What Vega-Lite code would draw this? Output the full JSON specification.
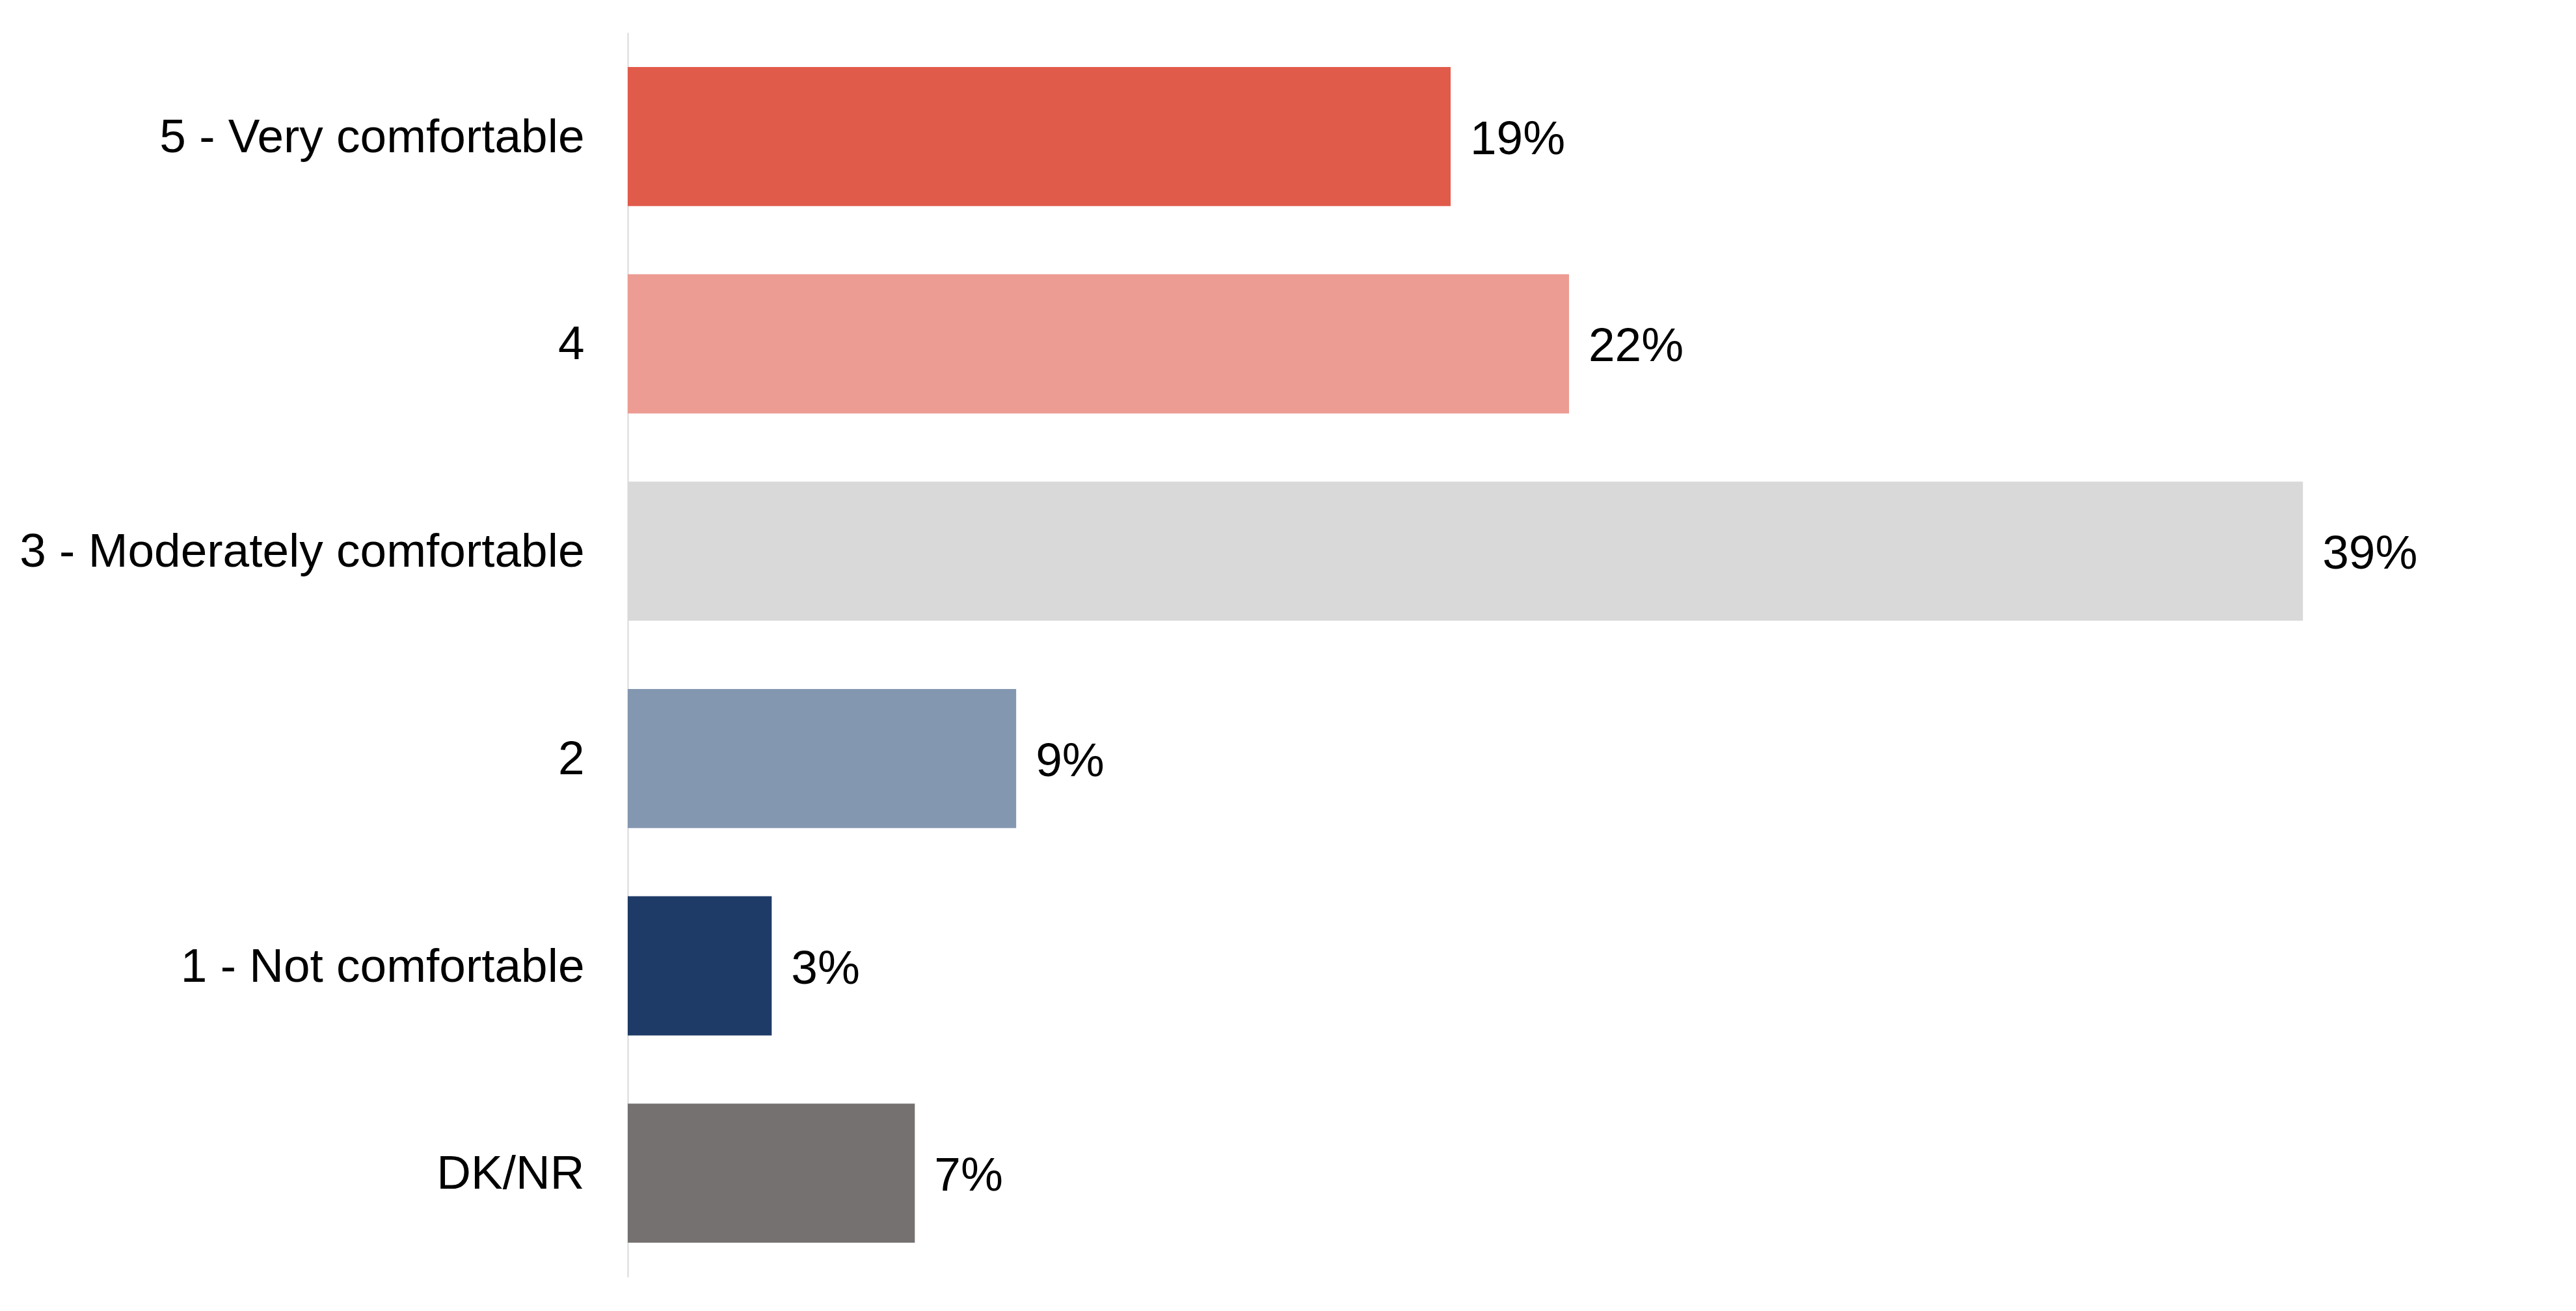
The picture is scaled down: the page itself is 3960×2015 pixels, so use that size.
{
  "$schema": "https://vega.github.io/schema/vega-lite/v6.json",
  "autosize": {"type": "none"},
  "width": 2750,
  "height": 1913,
  "padding": {"left": 965, "top": 50, "right": 245, "bottom": 52},
  "background": "white",
  "config": {
    "view": {"stroke": null},
    "font": "Liberation Sans"
  },
  "data": {
    "values": [
      {"category": "5 - Very comfortable", "pct": 19.32, "label": "19%", "color": "#E15B4B"},
      {"category": "4", "pct": 22.10, "label": "22%", "color": "#EC9C93"},
      {"category": "3 - Moderately comfortable", "pct": 39.33, "label": "39%", "color": "#D9D9D9"},
      {"category": "2", "pct": 9.12, "label": "9%", "color": "#8497B0"},
      {"category": "1 - Not comfortable", "pct": 3.38, "label": "3%", "color": "#1E3A67"},
      {"category": "DK/NR", "pct": 6.74, "label": "7%", "color": "#767171"}
    ]
  },
  "encoding": {
    "y": {
      "field": "category",
      "type": "nominal",
      "sort": null,
      "scale": {"paddingInner": 0.329, "paddingOuter": 0.166},
      "axis": {
        "title": null,
        "ticks": false,
        "domain": true,
        "domainColor": "#D9D9D9",
        "domainWidth": 2,
        "labelFont": "Liberation Sans",
        "labelFontSize": 73,
        "labelColor": "#000000",
        "labelPadding": 67,
        "labelLimit": 2000,
        "labelOffset": 2
      }
    },
    "x": {
      "field": "pct",
      "type": "quantitative",
      "scale": {"domain": [0, 42], "nice": false, "zero": true},
      "axis": null
    }
  },
  "layer": [
    {
      "mark": {"type": "bar"},
      "encoding": {
        "color": {"field": "color", "type": "nominal", "scale": null, "legend": null}
      }
    },
    {
      "mark": {
        "type": "text",
        "align": "left",
        "baseline": "middle",
        "dx": 30,
        "dy": 5,
        "font": "Liberation Sans",
        "fontSize": 73,
        "color": "#000000"
      },
      "encoding": {
        "text": {"field": "label", "type": "nominal"}
      }
    }
  ]
}
